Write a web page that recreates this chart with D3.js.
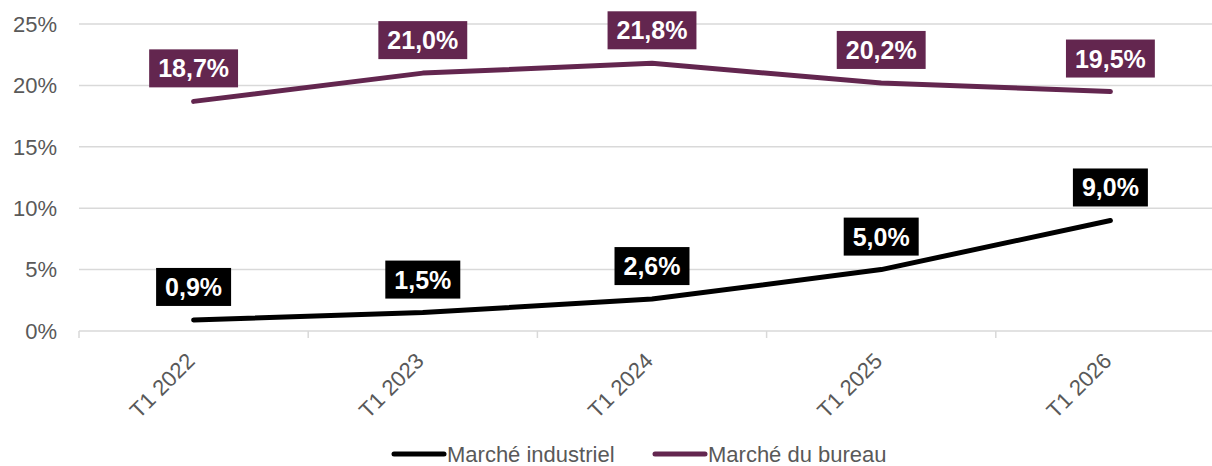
<!DOCTYPE html>
<html>
<head>
<meta charset="utf-8">
<script src="https://cdn.jsdelivr.net/npm/d3@7"></script>
<style>
  body { margin: 0; background: #fff; }
  svg { display: block; font-family: "Liberation Sans", Arial, sans-serif; }
</style>
</head>
<body>
<div id="chart"></div>
<script>
// data
var categories = ['T1 2022', 'T1 2023', 'T1 2024', 'T1 2025', 'T1 2026'];
var industriel = [0.9, 1.5, 2.6, 5.0, 9.0];
var bureau = [18.7, 21.0, 21.8, 20.2, 19.5];
var yTicks = [0, 5, 10, 15, 20, 25];

var series = [
  { name: 'Marché industriel', values: industriel, color: '#000000' },
  { name: 'Marché du bureau', values: bureau, color: '#63264f' }
];

var width = 1212, height = 466;
var plotLeft = 79, plotRight = 1225, plotTop = 24, plotBottom = 331;

var svg = d3.select('#chart').append('svg')
  .attr('width', width)
  .attr('height', height);

var x = d3.scaleBand().domain(categories).range([plotLeft, plotRight]);
var y = d3.scaleLinear().domain([0, 25]).range([plotBottom, plotTop]);

// gridlines
svg.append('g').selectAll('line')
  .data(yTicks.slice(1))
  .enter().append('line')
  .attr('x1', plotLeft).attr('x2', plotRight)
  .attr('y1', function(d){ return y(d); })
  .attr('y2', function(d){ return y(d); })
  .attr('stroke', '#d9d9d9')
  .attr('stroke-width', 1.5);

// y labels
svg.append('g').selectAll('text')
  .data(yTicks)
  .enter().append('text')
  .attr('x', 57)
  .attr('y', function(d){ return y(d); })
  .attr('dy', '0.35em')
  .attr('text-anchor', 'end')
  .attr('fill', '#595959')
  .style('font-size', '22px')
  .text(function(d){ return d + '%'; });

// x axis line + ticks
svg.append('line')
  .attr('x1', plotLeft).attr('x2', plotRight)
  .attr('y1', plotBottom).attr('y2', plotBottom)
  .attr('stroke', '#d9d9d9').attr('stroke-width', 1.5);

var bounds = categories.map(function(c){ return x(c); }).concat([plotRight]);
svg.append('g').selectAll('line')
  .data(bounds)
  .enter().append('line')
  .attr('x1', function(d){ return d; }).attr('x2', function(d){ return d; })
  .attr('y1', plotBottom).attr('y2', plotBottom + 7)
  .attr('stroke', '#d9d9d9').attr('stroke-width', 1.5);

// x labels
svg.append('g').selectAll('text')
  .data(categories)
  .enter().append('text')
  .attr('transform', function(d){
    return 'translate(' + (x(d) + x.bandwidth() / 2 - 3) + ',' + (plotBottom + 26) + ') rotate(-45)';
  })
  .attr('text-anchor', 'end')
  .attr('dy', '0.35em')
  .attr('fill', '#595959')
  .style('font-size', '22px')
  .text(function(d){ return d; });

var line = d3.line()
  .x(function(d, i){ return x(categories[i]) + x.bandwidth() / 2; })
  .y(function(d){ return y(d); });

series.forEach(function(s){
  svg.append('path')
    .datum(s.values)
    .attr('d', line)
    .attr('fill', 'none')
    .attr('stroke', s.color)
    .attr('stroke-width', 5)
    .attr('stroke-linecap', 'round')
    .attr('stroke-linejoin', 'round');

  var lab = svg.append('g').selectAll('g')
    .data(s.values)
    .enter().append('g')
    .attr('transform', function(d, i){
      return 'translate(' + (x(categories[i]) + x.bandwidth() / 2) + ',' + (y(d) - 33) + ')';
    });

  lab.append('rect')
    .attr('fill', s.color);

  lab.append('text')
    .attr('text-anchor', 'middle')
    .attr('dy', '0.36em')
    .attr('fill', '#fff')
    .style('font-size', '25px')
    .style('font-weight', 'bold')
    .text(function(d){ return d.toFixed(1).replace('.', ',') + '%'; });

  lab.each(function(){
    var g = d3.select(this);
    var w = g.select('text').node().getComputedTextLength();
    g.select('rect')
      .attr('x', -w / 2 - 9).attr('width', w + 18)
      .attr('y', -19).attr('height', 38);
  });
});

// legend
var legend = svg.append('g').selectAll('g')
  .data(series)
  .enter().append('g')
  .attr('transform', function(d, i){ return 'translate(' + (392 + i * 261) + ',454)'; });

legend.append('line')
  .attr('x1', 2).attr('x2', 52)
  .attr('stroke', function(d){ return d.color; })
  .attr('stroke-width', 5)
  .attr('stroke-linecap', 'round');

legend.append('text')
  .attr('x', 55)
  .attr('dy', '0.35em')
  .attr('fill', '#595959')
  .style('font-size', '22px')
  .text(function(d){ return d.name; });
</script>
</body>
</html>
